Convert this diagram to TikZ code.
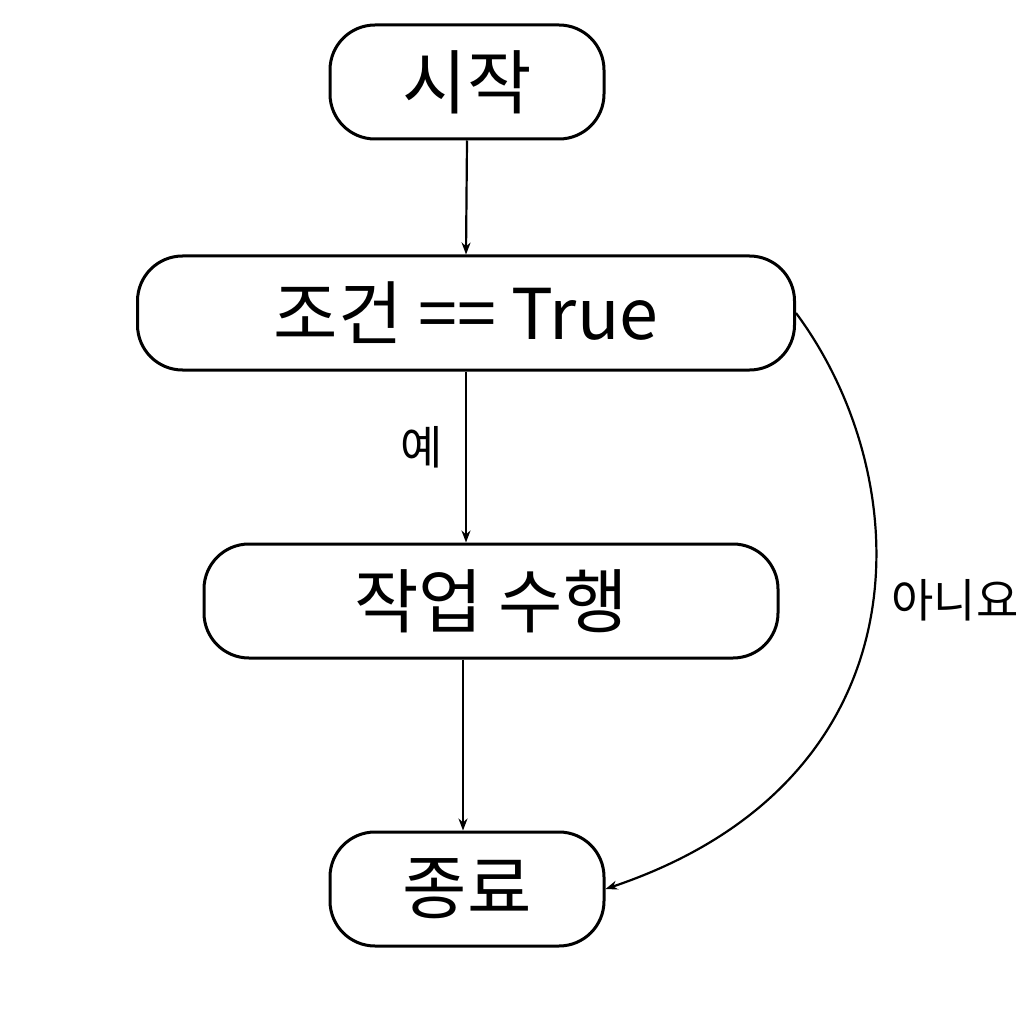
\documentclass[tikz,border=0pt]{standalone}
\usepackage{fontspec}
\setmainfont{Noto Sans CJK KR}
\usetikzlibrary{arrows.meta}
\begin{document}
\begin{tikzpicture}[x=1pt,y=-1pt,
 box/.style={draw,line width=3pt,rounded corners=45pt,minimum height=114pt,inner sep=0pt,font=\fontsize{70}{80}\selectfont},
 arr/.style={-{Stealth[length=12pt,width=9pt]},line width=2.2pt},
 lbl/.style={font=\fontsize{46}{52}\selectfont}]
\useasboundingbox (0,0) rectangle (1030,1024);
\node[box,minimum width=274pt] (s) at (467,82) {시작};
\node[box,minimum width=657pt] (c) at (466,313) {조건 == True};
\node[box,minimum width=574pt] (w) at (491,601) {작업 수행};
\node[box,minimum width=274pt] (e) at (467,889) {종료};
\draw[arr] (s.south) -- (c.north);
\draw[arr] (c.south) -- (c.south |- w.north);
\draw[arr] (w.south -| 463,0) -- (e.north -| 463,0);
\node[lbl] (y) at (422,447) {예};
\draw[arr] (c.east) .. controls (920,480) and (930,780) .. (e.east);
\node[lbl] (n) at (955,600) {아니요};
\end{tikzpicture}
\end{document}
